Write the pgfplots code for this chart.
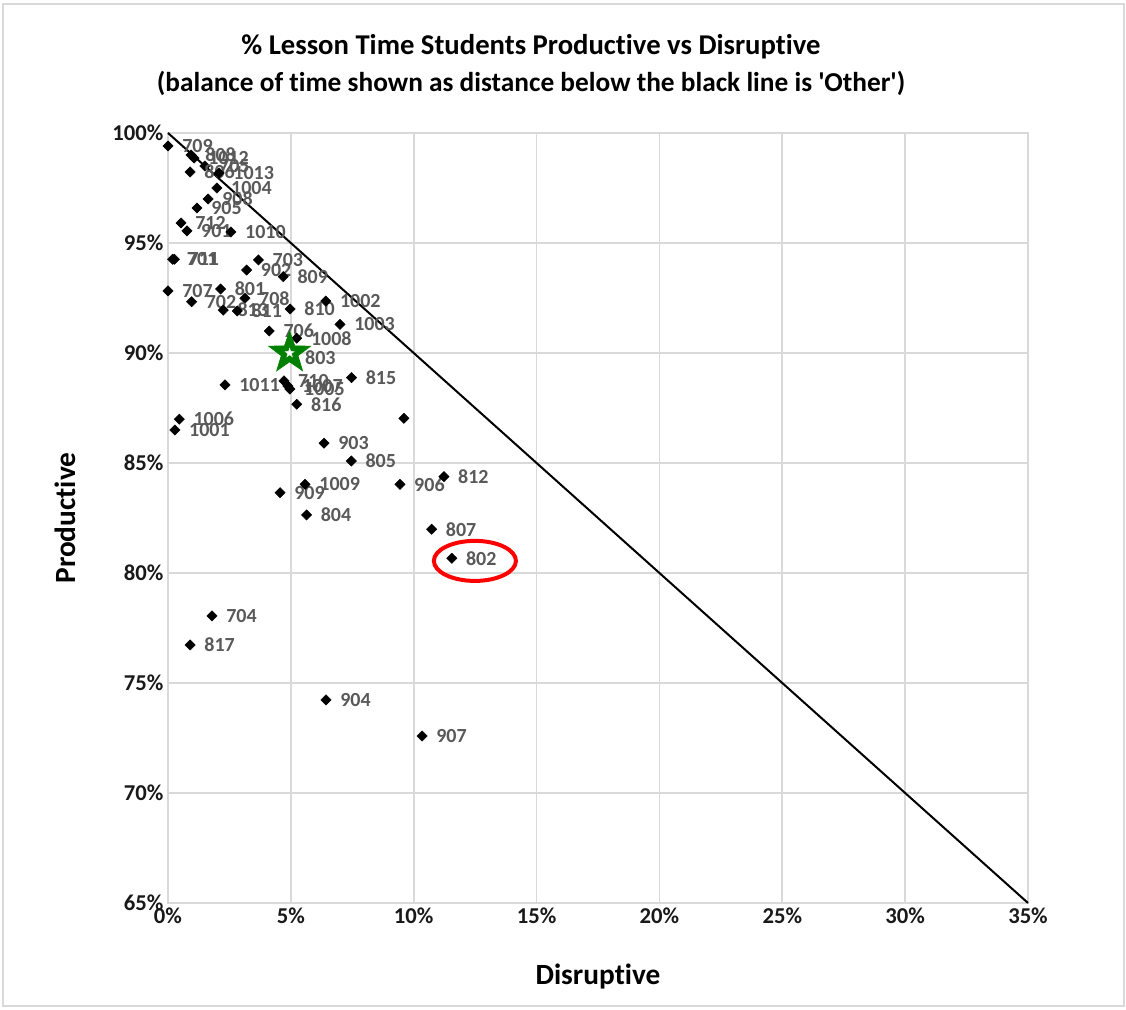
\documentclass[border=0pt]{standalone}
\usepackage{pgfplots}
\pgfplotsset{compat=1.18}
\usepackage{pgfplotstable}
\usepackage{fontspec}
\setmainfont{Carlito}[Ligatures=TeXOff, RawFeature={-liga;-clig;-calt;-dlig}]
\definecolor{labelgray}{HTML}{595959}
\definecolor{gridgray}{HTML}{D9D9D9}
\definecolor{stargreen}{HTML}{008000}

\pgfdeclareplotmark{fivestar}{%
  \pgfpathmoveto{\pgfpointpolar{90}{\pgfplotmarksize}}%
  \pgfpathlineto{\pgfpointpolar{126}{0.4\pgfplotmarksize}}%
  \pgfpathlineto{\pgfpointpolar{162}{\pgfplotmarksize}}%
  \pgfpathlineto{\pgfpointpolar{198}{0.4\pgfplotmarksize}}%
  \pgfpathlineto{\pgfpointpolar{234}{\pgfplotmarksize}}%
  \pgfpathlineto{\pgfpointpolar{270}{0.4\pgfplotmarksize}}%
  \pgfpathlineto{\pgfpointpolar{306}{\pgfplotmarksize}}%
  \pgfpathlineto{\pgfpointpolar{342}{0.4\pgfplotmarksize}}%
  \pgfpathlineto{\pgfpointpolar{18}{\pgfplotmarksize}}%
  \pgfpathlineto{\pgfpointpolar{54}{0.4\pgfplotmarksize}}%
  \pgfpathclose
  \pgfusepathqfillstroke
}

\pgfplotstableread{
x y lab
0.00 99.41 709
0.94 99.00 808
1.06 98.86 1012
1.50 98.50 705
0.90 98.23 806
2.08 98.18 1013
1.99 97.50 1004
1.63 97.00 908
1.18 96.59 905
0.53 95.91 712
0.77 95.55 901
2.56 95.50 1010
0.19 94.26 701
0.26 94.26 711
3.68 94.23 703
3.20 93.77 902
4.69 93.47 809
0.00 92.82 707
2.14 92.91 801
0.96 92.33 702
3.13 92.49 708
2.25 91.95 813
2.82 91.91 811
4.97 92.00 810
6.42 92.36 1002
7.00 91.30 1003
4.12 91.00 706
5.24 90.67 1008
5.00 89.80 803
2.32 88.55 1011
4.72 88.73 710
4.88 88.50 1007
4.96 88.36 1005
7.47 88.88 815
5.24 87.67 816
0.46 86.99 1006
0.28 86.50 1001
6.35 85.90 903
7.46 85.09 805
4.56 83.65 909
5.58 84.03 1009
9.44 84.03 906
5.64 82.64 804
11.23 84.38 812
10.73 81.99 807
11.55 80.67 802
1.79 78.05 704
0.90 76.73 817
6.43 74.23 904
10.34 72.59 907
}\classdata

\begin{document}
\begin{tikzpicture}[x=0.75pt,y=0.75pt]
\useasboundingbox (0,0) rectangle (1126,1009);
\draw[gridgray, line width=1.2pt] (3,3) rectangle (1124,1005);
\begin{axis}[
  at={(126pt,79.5pt)}, anchor=south west,
  scale only axis, width=645pt, height=577.5pt,
  xmin=0, xmax=35, ymin=65, ymax=100,
  xtick={0,5,...,35}, ytick={65,70,...,100},
  xticklabels={0\%,5\%,10\%,15\%,20\%,25\%,30\%,35\%},
  yticklabels={65\%,70\%,75\%,80\%,85\%,90\%,95\%,100\%},
  tick label style={font=\bfseries\fontsize{17}{18}\selectfont, text=black!90},
  major tick length=0pt,
  grid=major,
  major grid style={gridgray, line width=1.2pt},
  axis line style={gridgray, line width=1.2pt},
  clip=false,
]
\addplot[black, line width=1.5pt] coordinates {(0,100) (35,65)};
\addplot[only marks, mark=square*, mark size=2.7pt, mark options={rotate=45, black},
  nodes near coords, point meta=explicit symbolic,
  nodes near coords style={anchor=west, xshift=9.5pt, inner sep=1pt,
    font=\bfseries\fontsize{15}{15}\selectfont, text=labelgray}]
  table[x=x, y=y, meta=lab] {\classdata};
\addplot[only marks, mark=square*, mark size=2.7pt, mark options={rotate=45, black}]
  coordinates {(9.60,87.03)};
\addplot[only marks, mark=fivestar, mark size=16.5pt, mark options={fill=stargreen, draw=stargreen, line width=0.5pt}]
  coordinates {(4.95,90.0)};
\addplot[only marks, mark=fivestar, mark size=3.5pt, mark options={fill=white, draw=white!85!gray}]
  coordinates {(4.95,90.0)};
\draw[red, line width=3pt] (axis cs:12.49,80.55) ellipse [x radius=1.67, y radius=0.91];
\end{axis}
\node[font=\bfseries\fontsize{21.5}{22}\selectfont] at (531,1009-47) {\% Lesson Time Students Productive vs Disruptive};
\node[font=\bfseries\fontsize{20.5}{22}\selectfont] at (531,1009-83) {(balance of time shown as distance below the black line is 'Other')};
\node[rotate=90, font=\bfseries\fontsize{22}{22}\selectfont] at (65,1009-518) {Productive};
\node[font=\bfseries\fontsize{22}{22}\selectfont] at (598,1009-977) {Disruptive};
\end{tikzpicture}
\end{document}
